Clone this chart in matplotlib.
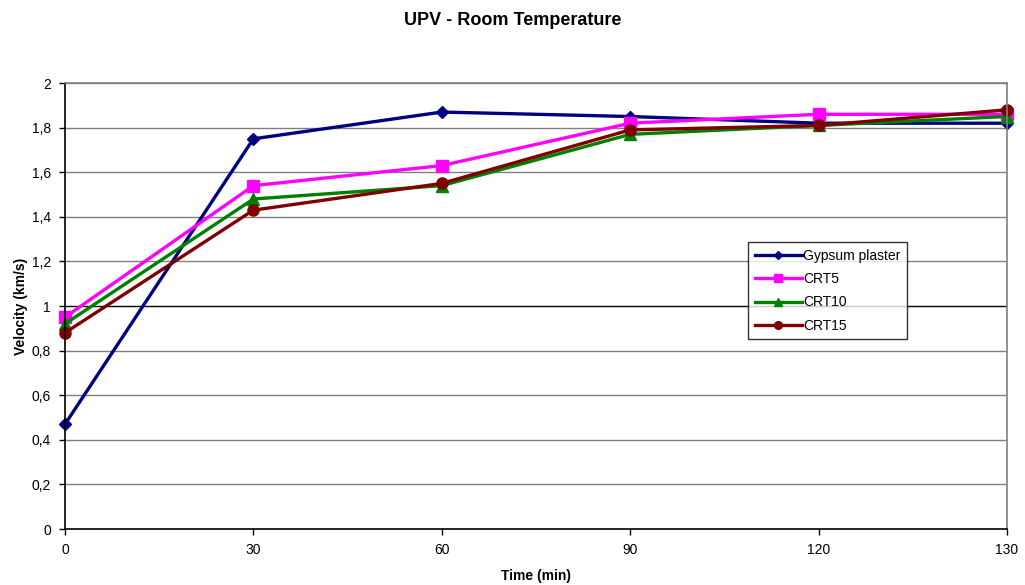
import matplotlib.pyplot as plt

plt.rcParams['font.family'] = ['Liberation Sans', 'DejaVu Sans']

time_labels = ['0', '30', '60', '90', '120', '130']
gypsum = [0.47, 1.75, 1.87, 1.85, 1.82, 1.82]
crt5 = [0.95, 1.54, 1.63, 1.82, 1.86, 1.86]
crt10 = [0.92, 1.48, 1.54, 1.77, 1.81, 1.85]
crt15 = [0.88, 1.43, 1.55, 1.79, 1.81, 1.88]
y_ticks = [0, 0.2, 0.4, 0.6, 0.8, 1.0, 1.2, 1.4, 1.6, 1.8, 2.0]

fig = plt.figure(figsize=(10.25, 5.85), dpi=100)
ax = fig.add_axes([0.0634, 0.0957, 0.919, 0.7623])

x = list(range(len(time_labels)))
for yt in y_ticks[1:]:
    c = 'black' if yt == 1.0 else '#808080'
    ax.axhline(yt, color=c, lw=1, zorder=0)

ax.plot(x, gypsum, color='#000080', lw=2.4, marker='D', ms=6.5, label='Gypsum plaster', clip_on=False)
ax.plot(x, crt5, color='#FF00FF', lw=2.4, marker='s', ms=8, label='CRT5', clip_on=False)
ax.plot(x, crt10, color='#008000', lw=2.4, marker='^', ms=8, label='CRT10', clip_on=False)
ax.plot(x, crt15, color='#800000', lw=2.4, marker='o', ms=8, label='CRT15', clip_on=False)

ax.set_xlim(0, len(time_labels) - 1)
ax.set_ylim(0, 2)
ax.set_xticks(x)
ax.set_xticklabels(time_labels, fontsize=10)
ax.set_yticks(y_ticks)
ax.set_yticklabels([('%g' % v).replace('.', ',') for v in y_ticks], fontsize=10)
ax.tick_params(direction='out', length=4, width=1, colors='black', pad=6)

for s in ['left', 'bottom']:
    ax.spines[s].set_color('black')
    ax.spines[s].set_linewidth(1.2)
for s in ['top', 'right']:
    ax.spines[s].set_color('#808080')
    ax.spines[s].set_linewidth(1.2)

ax.set_xlabel('Time (min)', fontsize=10, fontweight='bold', labelpad=9)
ax.set_ylabel('Velocity (km/s)', fontsize=10, fontweight='bold', labelpad=3)
fig.suptitle('UPV - Room Temperature', fontsize=13, fontweight='bold', y=0.98)

leg = ax.legend(loc='upper left', bbox_to_anchor=(0.7255, 0.643), fontsize=10,
                frameon=True, fancybox=False, edgecolor='black', handlelength=3.4,
                handletextpad=0.1, borderpad=0.45, labelspacing=0.68, borderaxespad=0,
                markerscale=0.7)
leg.get_frame().set_linewidth(1)

fig.savefig('out.png', dpi=100)
